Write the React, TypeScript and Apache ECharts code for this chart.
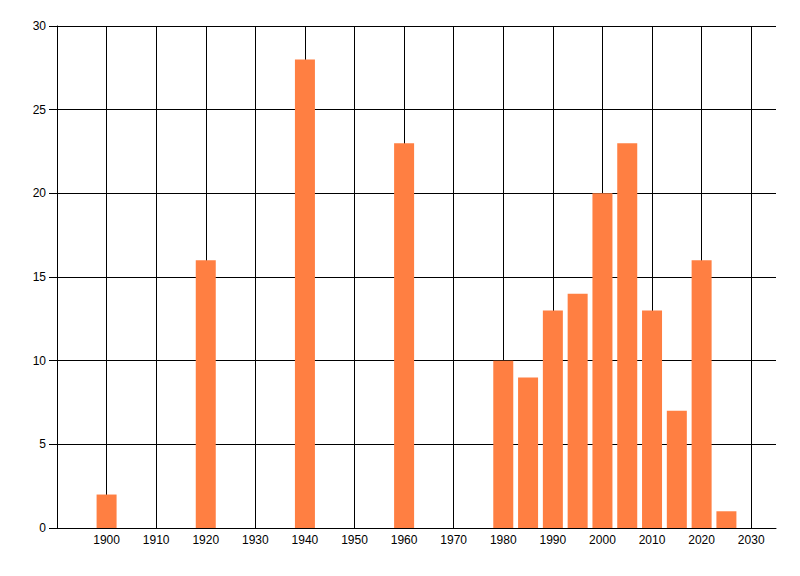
import React, { useEffect, useRef } from "react";
import * as echarts from "echarts";

const years = [1900, 1920, 1940, 1960, 1980, 1985, 1990, 1995, 2000, 2005, 2010, 2015, 2020, 2025];
const counts = [2, 16, 28, 23, 10, 9, 13, 14, 20, 23, 13, 7, 16, 1];
const xMin = 1890;
const xMax = 2035;
const yTicks = [0, 5, 10, 15, 20, 25, 30];

export default function App() {
  const ref = useRef<HTMLDivElement>(null);
  useEffect(() => {
    if (!ref.current) return;
    const chart = echarts.init(ref.current, undefined, { renderer: "svg" });
    const font = { fontFamily: "'Liberation Sans Narrow', 'Liberation Sans', sans-serif", fontSize: 12, color: "#000" };
    chart.setOption({
      animation: false,
      backgroundColor: "#fff",
      grid: { left: 57, top: 26, right: 24, bottom: 48, containLabel: false },
      xAxis: {
        type: "value",
        min: xMin,
        max: xMax,
        interval: 10,
        axisLine: { show: true, onZero: false, lineStyle: { color: "#000", width: 1 } },
        axisTick: { show: false },
        axisLabel: {
          ...font,
          margin: 6,
          formatter: (v: number) => (v === xMin || v === xMax ? "" : String(v)),
        },
        splitLine: { show: true, showMinLine: false, showMaxLine: false, lineStyle: { color: "#000", width: 1 } },
      },
      yAxis: {
        type: "value",
        min: yTicks[0],
        max: yTicks[yTicks.length - 1],
        interval: 5,
        axisLine: { show: true, lineStyle: { color: "#000", width: 1 } },
        axisTick: { show: true, length: 8, lineStyle: { color: "#000" } },
        axisLabel: { ...font, margin: 11 },
        splitLine: { show: true, lineStyle: { color: "#000", width: 1 } },
      },
      series: [
        {
          type: "bar",
          data: years.map((y, i) => [y, counts[i]]),
          barWidth: 20,
          itemStyle: { color: "#FF7F42" },
        },
      ],
    });
    return () => chart.dispose();
  }, []);
  return (
    <div
      ref={ref}
      style={{ position: "absolute", left: 0, top: 0, width: 800, height: 576, background: "#fff" }}
    />
  );
}
